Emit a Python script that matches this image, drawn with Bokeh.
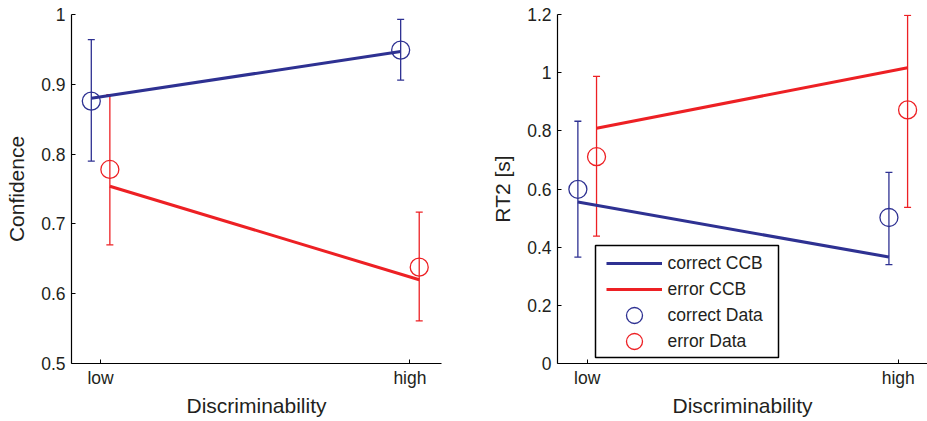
from bokeh.plotting import figure
from bokeh.models import (ColumnDataSource, Whisker, TeeHead, Range1d, FixedTicker,
                          Legend, LegendItem, BoxAnnotation)
from bokeh.layouts import row
from bokeh.embed import file_html
from bokeh.resources import INLINE

# ---------------- data ----------------
conditions = ["low", "high"]
cond_pos = [1, 2]

# Confidence panel
conf_correct_ccb = [0.880, 0.947]
conf_error_ccb = [0.754, 0.620]
conf_correct_mean = [0.876, 0.949]
conf_correct_lower = [0.790, 0.906]
conf_correct_upper = [0.964, 0.993]
conf_error_mean = [0.778, 0.638]
conf_error_lower = [0.670, 0.561]
conf_error_upper = [0.885, 0.717]
conf_yticks = [0.5, 0.6, 0.7, 0.8, 0.9, 1.0]
conf_ytick_labels = ["0.5", "0.6", "0.7", "0.8", "0.9", "1"]

# RT2 panel
rt_correct_ccb = [0.555, 0.366]
rt_error_ccb = [0.809, 1.017]
rt_correct_mean = [0.599, 0.502]
rt_correct_lower = [0.366, 0.340]
rt_correct_upper = [0.833, 0.657]
rt_error_mean = [0.711, 0.872]
rt_error_lower = [0.438, 0.537]
rt_error_upper = [0.987, 1.197]
rt_yticks = [0.0, 0.2, 0.4, 0.6, 0.8, 1.0, 1.2]
rt_ytick_labels = ["0", "0.2", "0.4", "0.6", "0.8", "1", "1.2"]

legend_labels = ["correct CCB", "error CCB", "correct Data", "error Data"]

# ---------------- style ----------------
BLUE = "#2E3192"
RED = "#ED2024"
TXT = "#231F20"
FONT = "Liberation Sans"
OFFSET = 0.03
FRAME_H = 349


def make_panel(ccb_c, ccb_e, mc, lc, uc, me, le, ue, yticks, ylabels, yrange, xrange,
               ylabel, mbl, fw, mbr):
    p = figure(output_backend="svg", toolbar_location=None,
               frame_width=fw, frame_height=FRAME_H,
               min_border_left=mbl, min_border_right=mbr,
               min_border_top=14, min_border_bottom=58,
               x_range=Range1d(*xrange), y_range=Range1d(*yrange))
    p.outline_line_color = None
    p.grid.visible = False
    p.background_fill_color = "white"
    p.border_fill_color = "white"

    xc = [c - OFFSET for c in cond_pos]
    xe = [c + OFFSET for c in cond_pos]

    lc_r = p.line(xc, ccb_c, line_color=BLUE, line_width=3)
    le_r = p.line(xe, ccb_e, line_color=RED, line_width=3)

    src_c = ColumnDataSource(dict(x=xc, y=mc, lower=lc, upper=uc))
    src_e = ColumnDataSource(dict(x=xe, y=me, lower=le, upper=ue))
    for src, col in ((src_c, BLUE), (src_e, RED)):
        w = Whisker(source=src, base="x", lower="lower", upper="upper",
                    line_color=col, line_width=1.3,
                    upper_head=TeeHead(size=7, line_color=col, line_width=1.3),
                    lower_head=TeeHead(size=7, line_color=col, line_width=1.3))
        p.add_layout(w)
    sc_r = p.scatter("x", "y", source=src_c, marker="circle", size=18,
                     fill_color=None, line_color=BLUE, line_width=1.3)
    se_r = p.scatter("x", "y", source=src_e, marker="circle", size=18,
                     fill_color=None, line_color=RED, line_width=1.3)

    for ax in (p.xaxis[0], p.yaxis[0]):
        ax.axis_line_color = "black"
        ax.axis_line_width = 1.2
        ax.major_tick_line_color = "black"
        ax.major_tick_in = 4
        ax.major_tick_out = 0
        ax.minor_tick_line_color = None
        ax.major_label_text_font = FONT
        ax.major_label_text_font_size = "17.5px"
        ax.major_label_text_color = TXT
        ax.axis_label_text_font = FONT
        ax.axis_label_text_font_size = "21px"
        ax.axis_label_text_font_style = "normal"
        ax.axis_label_text_color = TXT

    p.xaxis.ticker = FixedTicker(ticks=cond_pos)
    p.xaxis.major_label_overrides = {k: v for k, v in zip(cond_pos, conditions)}
    p.xaxis.axis_label = "Discriminability"
    p.xaxis.major_label_standoff = 4
    p.xaxis.axis_label_standoff = 3

    p.yaxis.ticker = FixedTicker(ticks=yticks)
    p.yaxis.major_label_overrides = {k: v for k, v in zip(yticks, ylabels)}
    p.yaxis.axis_label = ylabel
    p.yaxis.major_label_standoff = 6
    p.yaxis.axis_label_standoff = 10
    return p, (lc_r, le_r, sc_r, se_r)


p1, _ = make_panel(conf_correct_ccb, conf_error_ccb,
                   conf_correct_mean, conf_correct_lower, conf_correct_upper,
                   conf_error_mean, conf_error_lower, conf_error_upper,
                   conf_yticks, conf_ytick_labels, (0.5, 1.0), (0.906, 2.102),
                   "Confidence", 71, 370, 40)

p2, rends = make_panel(rt_correct_ccb, rt_error_ccb,
                       rt_correct_mean, rt_correct_lower, rt_correct_upper,
                       rt_error_mean, rt_error_lower, rt_error_upper,
                       rt_yticks, rt_ytick_labels, (0.0, 1.2), (0.9045, 2.094),
                       "RT2 [s]", 76, 370, 0)

# legend: one single-item legend per entry so the rows sit 26px apart
LEG_PAD = 12
ITEM_H = 40
first_center = 112.0   # screen px above frame bottom
step = 26.1
for i, (lab, r) in enumerate(zip(legend_labels, rends)):
    cy = first_center - i * step
    lg = Legend(items=[LegendItem(label=lab, renderers=[r])],
                location=(48.5, cy - ITEM_H / 2 - LEG_PAD),
                glyph_width=56, glyph_height=ITEM_H, label_height=ITEM_H,
                padding=LEG_PAD, label_standoff=6,
                label_text_font=FONT, label_text_font_size="17.5px",
                label_text_color=TXT,
                border_line_color=None, background_fill_alpha=0)
    p2.add_layout(lg)

p2.add_layout(BoxAnnotation(left=38, right=221, bottom=6, top=118,
                            left_units="screen", right_units="screen",
                            bottom_units="screen", top_units="screen",
                            fill_alpha=0, line_color="black", line_width=1.5, line_alpha=1))

layout = row(p1, p2)
open("out.html", "w").write(file_html(layout, INLINE))
